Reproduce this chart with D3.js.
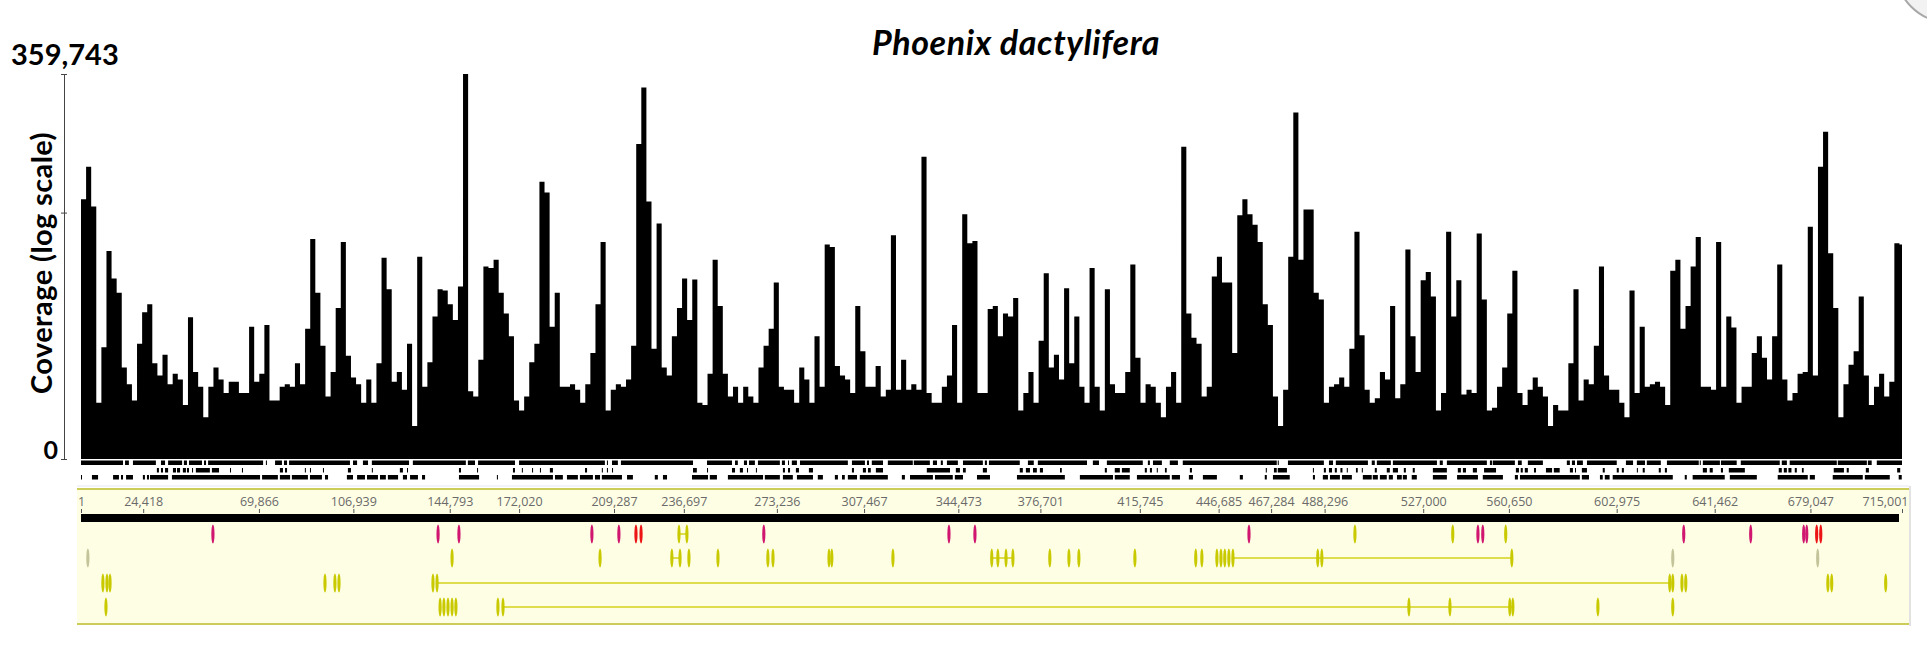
<!DOCTYPE html>
<html>
<head>
<meta charset="utf-8">
<script src="https://cdn.jsdelivr.net/npm/d3@7"></script>
<style>
  body { margin: 0; background: #fff; }
  svg { display: block; }
</style>
</head>
<body>
<svg id="chart" width="1927" height="664"></svg>
<script>
// ---- data ----
const genomeLength = 715001;
const binSize = 2000;
const yMax = 359743;
const yTicks = [0, 3597, 359743];

// read coverage per 2 kb bin (log scale in the picture)
const coverage = [
  5600, 16500, 4400, 5.5, 40, 1000, 400, 250, 20, 11,
  6, 45, 130, 170, 23, 15, 31, 11, 16, 13,
  5, 110, 17, 10, 3, 10, 20, 13, 8, 12,
  12, 8, 8, 80, 12, 16, 85, 6, 6, 10,
  11, 10, 23, 11, 75, 1500, 250, 42, 7, 17,
  150, 1350, 30, 14, 11, 5.5, 13, 5.5, 23, 800,
  280, 12, 17, 9, 45, 2, 830, 10, 24, 113,
  280, 270, 170, 100, 307, 359743, 8.5, 7, 26, 600,
  570, 750, 250, 125, 58, 6, 4, 7, 24, 45,
  10000, 7000, 80, 250, 10, 10, 11, 9, 5.5, 11,
  33, 170, 1350, 4, 9, 11, 10, 13, 42, 35000,
  230000, 5200, 38, 2500, 20, 15, 58, 150, 400, 100,
  390, 5.5, 5, 16, 750, 160, 16, 7, 10, 5.5,
  10, 7, 5.5, 20, 42, 75, 350, 10, 9, 9,
  5.5, 20, 13, 5.5, 58, 10, 1250, 1150, 21, 15,
  13, 8, 160, 35, 10, 10, 21, 7, 9, 1700,
  9, 26, 9, 11, 9, 23000, 8, 5.5, 5.5, 10,
  15, 85, 5.5, 3400, 1300, 1400, 8, 8, 145, 160,
  58, 125, 113, 210, 4, 8, 17, 5.5, 50, 480,
  20, 31, 13, 290, 23, 113, 10, 5.5, 570, 10,
  4, 280, 11, 8, 8, 17, 640, 28, 5.5, 11,
  10, 5.5, 3, 10, 17, 5.5, 32000, 125, 55, 45,
  7, 10, 430, 830, 350, 350, 33, 3300, 5600, 3400,
  2400, 1350, 170, 85, 7, 2, 9, 830, 100000, 750,
  4000, 4000, 250, 200, 5.5, 10, 11, 14, 10, 38,
  1900, 60, 9, 5.5, 6.5, 17, 13, 160, 6.5, 11,
  1050, 58, 17, 380, 500, 220, 4, 8, 1900, 113,
  380, 7.5, 9, 8, 1800, 200, 4, 4.5, 10, 20,
  125, 520, 8, 5, 9, 14, 10, 7, 2, 5,
  4, 4, 23, 280, 6, 13, 11, 42, 600, 15,
  9, 9, 5.5, 3, 270, 8, 80, 10, 11, 12,
  10, 5, 520, 750, 75, 160, 600, 1600, 10, 10,
  9, 1350, 10, 113, 78, 5.5, 10, 10, 33, 58,
  28, 13, 58, 640, 13, 6, 8, 16, 17, 2250,
  15, 16500, 53000, 930, 150, 3, 11, 22, 35, 220,
  15, 5, 10, 16, 7, 12, 1300, 1250
];

const rulerTicks = [1, 24418, 69866, 106939, 144793, 172020, 209287, 236697, 273236,
  307467, 344473, 376701, 415745, 446685, 467284, 488296, 527000, 560650,
  602975, 641462, 679047, 715001];

// three rows of black blocks under the coverage (kb)
const blockRow1Kb = [[0,16.5],[17.3,18.8],[20.4,29.4],[31.4,33],[34.2,39.7],[40.4,41.6],[42.4,47.5],
  [48.3,49.1],[49.9,71.5],[72.6,73],[76.2,78.9],[79.7,80.9],[81.7,105.6],[106.8,108.4],[110.7,112.7],
  [114.2,128.8],[130.3,151.1],[151.9,154.7],[155.9,170.4],[172,205.7],[206.5,206.9],[208.5,210.8],
  [212,240.3],[245.8,255.6],[256.8,257.9],[260.3,261.5],[262.3,264.6],[265.8,274.4],[275.2,276.4],
  [277.6,278],[279.1,281.1],[282.3,301.1],[302.7,307.8],[308.6,309.4],[310.5,314.9],[316.8,326.6],
  [327,333.3],[334.5,336.1],[337.6,338.4],[340,344.3],[346.3,354.1],[354.9,355.7],[356.5,368.6],
  [371.8,374.1],[375.7,395],[397.3,399.7],[402.8,416.9],[418.9,419.7],[420.9,424.4],[427.5,430.7],
  [432.6,469.5],[469.9,470.3],[473.9,488],[490,491.6],[492.7,505.3],[506.8,508],[508.8,514.3],
  [515.1,532.4],[533.5,534.7],[536.3,552],[553.2,554],[554.3,563],[564.2,565.7],[568.1,574],
  [583.4,584.6],[585.4,586.6],[587.4,589.7],[591.3,603],[606.6,609.4],[610.9,614.1],[614.8,620.3],
  [622.7,635.2],[635.6,636],[636.8,643.5],[643.9,650.1],[651.7,667],[667.8,669.8],[670.9,689.4],
  [689.8,701.2],[701.6,703.1],[705.1,715]];

const blockRow2Kb = [[29.8,30.6],[31.4,32.2],[33,34.2],[36.1,37.3],[37.7,38.9],[40,41.2],[41.6,42.4],
  [43.6,44],[45.1,50.6],[51.4,54.2],[58.5,58.9],[63.2,63.6],[78.1,79.3],[80.1,80.9],[87.9,88.3],
  [89.9,90.3],[95,95.4],[104.8,106],[114.2,114.6],[125.2,126.4],[128,128.4],[148.4,149.2],
  [155.5,155.9],[169.6,170.4],[173.1,173.5],[177.1,177.5],[180.2,180.6],[184.1,185.3],[197.9,198.7],
  [204.5,204.9],[206.5,206.9],[208.5,208.9],[240.3,241.8],[245.8,246.2],[255.6,256.8],[258.7,259.9],
  [261.5,261.9],[265,265.4],[275.6,276.4],[277.6,278.4],[280.7,281.9],[285.8,287.4],[302.7,303.5],
  [307,308.2],[309,310.1],[312.1,314.9],[332.1,341.2],[343.5,345.1],[346.3,347.4],[354.1,355.7],
  [368.6,369.8],[371,372.6],[373.8,375.3],[376.5,377.7],[384.4,385.1],[402,402.8],[405.9,407.9],
  [408.7,411.8],[417.7,418.5],[419.7,420.5],[422.4,422.8],[425.6,426.3],[435.4,436.2],[465.2,465.6],
  [468.4,469.5],[469.9,473.5],[483.7,484.1],[488,488.8],[490,491.2],[492.3,493.1],[494.5,495.3],
  [497,497.4],[500.6,501.3],[502.9,503.3],[508,508.8],[512.7,513.9],[515.1,517.1],[519.4,520.2],
  [522.9,523.7],[530.8,536.3],[540.6,541.8],[542.6,543.8],[546.5,548.1],[550.9,555.6],[563.4,564.6],
  [565.3,566.1],[566.9,568.1],[570.5,571.3],[575.2,577.6],[578.3,580.6],[584.6,585.8],[586.6,587],
  [589.3,591.3],[597.5,598.3],[603,603.8],[605,605.8],[610.9,611.3],[613.2,614],[619.5,620.3],
  [621.9,622.7],[636.8,638.4],[639.5,640.7],[643.9,644.7],[647,653.3],[666.6,667.8],[668.6,669.8],
  [670.4,671.6],[672.9,673.7],[675.7,676.4],[688.2,692.2],[693.3,694.1],[700.8,702],[713.1,714.3]];

const blockRow3Kb = [[0,0.4],[4.3,6.7],[12.6,14.9],[15.7,16.5],[17.7,20.4],[24.3,25.1],[25.9,26.7],
  [27.1,34.2],[35.7,70.3],[71.1,77.3],[78.1,82.1],[82.8,89.1],[89.9,94.6],[95.8,97],[104.4,106.8],
  [108.4,111.5],[112.3,116.6],[117.4,119.7],[120.5,124.5],[126.4,128],[129.2,132.3],[133.9,135.1],
  [148.4,156.3],[163.3,163.7],[169.2,185.3],[186.1,189.2],[190.8,195.1],[195.9,201],[201.8,203.8],
  [204.5,212.4],[214.4,216.7],[225.3,226.5],[228.5,230.1],[239.9,246.2],[246.9,249.7],[254,267.8],
  [268.5,274.4],[275.6,279.5],[281.1,287.4],[289.3,291.3],[296,297.2],[298.8,299.9],[301.1,304.7],
  [305.8,316.8],[322.3,323.5],[325.5,334.5],[335.3,342.3],[343.1,346.3],[351.8,356.9],[367.5,386.3],
  [392.2,405.2],[405.9,411.8],[414.6,427.5],[428.3,431.5],[435,436.6],[440.5,446],[455,456.2],
  [464.8,465.6],[468,474.6],[483.7,484.5],[487.6,489.6],[490.4,494.3],[495.1,499],[503.3,506.8],
  [507.2,509.2],[510,512.7],[513.5,515.1],[516.7,518.6],[519,520.6],[522.5,524.5],[530.8,536.3],
  [540.3,548.5],[550.4,558.3],[563,564.2],[565,588.5],[589.3,592.1],[596.4,597.5],[598.3,600.2],
  [601.4,625],[629.7,630.5],[632.8,645.4],[647.4,658],[666.2,678],[678.8,680.8],[687.8,699.6],
  [700.4,710.2],[713.7,714.9]];

// annotation marks (kb) for the four feature rows in the ruler panel
const rowAPinkKb = [51.8, 140.2, 148.4, 200.6, 211.2, 268.1, 340.8, 351.0, 458.6, 548.5, 550.4, 629.3, 655.6, 676.4, 677.6];
const rowARedKb = [217.9, 219.9, 681.5, 683.1];
const rowAYellowKb = [234.8, 237.9, 500.2, 538.6, 559.4];
const rowBYellowKb = [145.7, 203.8, 232.0, 235.2, 238.7, 250.1, 269.7, 271.7, 293.7, 294.8, 318.8,
  357.6, 360.0, 363.2, 365.9, 380.4, 387.9, 391.8, 413.8, 437.7, 440.1,
  446.0, 447.6, 449.1, 450.7, 452.3, 485.6, 487.2, 561.8];
const rowBPaleKb = [2.7, 625.0, 681.9];
const rowCYellowKb = [8.6, 10.2, 11.4, 95.8, 99.7, 101.3, 138.2, 139.8, 623.8, 625.0, 628.6, 630.1, 685.9, 687.4, 708.6];
const rowDYellowKb = [9.8, 141.0, 142.5, 144.1, 145.7, 147.2, 163.7, 165.7, 521.4, 537.5, 561.0, 562.2, 595.6, 625.0];
// connecting lines: [row, startKb, endKb]
const linksKb = [["A", 234.8, 237.9], ["B", 232.0, 235.2], ["B", 357.6, 365.9], ["B", 452.3, 561.8],
  ["C", 139.8, 623.8], ["D", 165.7, 562.2]];

// ---- drawing ----
const svg = d3.select("#chart");
const base = 459;
const x = d3.scaleLinear().domain([1, genomeLength]).range([81, 1902]);
const xKb = d => x(d * 1000);
const y = d3.scaleSymlog().domain([0, yMax]).range([base, 74]);

// title
svg.append("text")
  .attr("x", 1016).attr("y", 55)
  .attr("text-anchor", "middle")
  .attr("font-family", "Lato, 'Open Sans', sans-serif")
  .attr("font-size", 34).attr("font-weight", "bold").attr("font-style", "italic")
  .attr("letter-spacing", 0.6)
  .text("Phoenix dactylifera");

// corner button remnant
svg.append("circle")
  .attr("cx", 1948).attr("cy", -30).attr("r", 52)
  .attr("fill", "#f2f2f2").attr("stroke", "#a8a8a8").attr("stroke-width", 2);

// coverage as a step area
const steps = coverage.map((v, i) => ({ pos: 1 + i * binSize, v }));
steps.push({ pos: genomeLength, v: coverage[coverage.length - 1] });

const area = d3.area()
  .x(d => x(d.pos))
  .y0(base)
  .y1(d => y(d.v))
  .curve(d3.curveStepAfter);

svg.append("path")
  .datum(steps)
  .attr("d", area)
  .attr("fill", "#000");

// y axis
const yAxis = d3.axisLeft(y).tickValues(yTicks).tickSize(3).tickSizeOuter(0).tickFormat("");
svg.append("g")
  .attr("transform", "translate(64,0)")
  .call(yAxis)
  .call(g => g.select(".domain").attr("stroke", "#444"))
  .call(g => g.selectAll(".tick line").attr("x1", 3).attr("x2", -3).attr("stroke", "#444"));

svg.append("text")
  .attr("x", 11).attr("y", y(yMax) - 9)
  .attr("font-family", "Lato, sans-serif").attr("font-weight", "bold").attr("font-size", 29)
  .text(d3.format(",")(yMax));

svg.append("text")
  .attr("x", 58).attr("y", y(0))
  .attr("text-anchor", "end")
  .attr("font-family", "Lato, sans-serif").attr("font-weight", "bold").attr("font-size", 25)
  .text("0");

svg.append("text")
  .attr("transform", `translate(52, 263) rotate(-90)`)
  .attr("text-anchor", "middle")
  .attr("font-family", "Lato, sans-serif").attr("font-weight", "bold").attr("font-size", 29)
  .attr("letter-spacing", 0.4)
  .text("Coverage (log scale)");

// block rows
const blockRows = [
  { data: blockRow1Kb, y: 460.5 },
  { data: blockRow2Kb, y: 468 },
  { data: blockRow3Kb, y: 475 }
];
blockRows.forEach(row => {
  svg.append("g").selectAll("rect")
    .data(row.data)
    .join("rect")
    .attr("x", d => xKb(d[0]))
    .attr("width", d => Math.max(1, xKb(d[1]) - xKb(d[0])))
    .attr("y", row.y)
    .attr("height", 4.5)
    .attr("fill", "#000");
});

// ruler panel
svg.append("line")
  .attr("x1", 77).attr("x2", 1909).attr("y1", 486).attr("y2", 486)
  .attr("stroke", "#e3e7f3").attr("stroke-width", 1);

svg.append("rect")
  .attr("x", 77).attr("y", 489).attr("width", 1832).attr("height", 135)
  .attr("fill", "#fefee4");

svg.append("line")
  .attr("x1", 1910).attr("x2", 1910).attr("y1", 486).attr("y2", 626)
  .attr("stroke", "#e2e2e2").attr("stroke-width", 2);

[489, 624].forEach(yy => {
  svg.append("line")
    .attr("x1", 77).attr("x2", 1909).attr("y1", yy).attr("y2", yy)
    .attr("stroke", "#cccc5a").attr("stroke-width", 2);
});

const rulerAxis = d3.axisTop(x).tickValues(rulerTicks).tickSize(4).tickPadding(3)
  .tickFormat(d => d3.format(",")(d));
svg.append("g")
  .attr("transform", "translate(0,513)")
  .call(rulerAxis)
  .call(g => g.select(".domain").remove())
  .call(g => g.selectAll(".tick line").attr("stroke", "#555"))
  .call(g => g.selectAll(".tick text")
    .attr("fill", "#6a6a6a")
    .attr("font-family", "'Open Sans', sans-serif")
    .attr("font-size", 12.5)
    .filter(d => d === genomeLength)
    .attr("text-anchor", "end")
    .attr("dx", 6));

svg.append("rect")
  .attr("x", x(1)).attr("y", 514)
  .attr("width", x(genomeLength) - x(1) - 3).attr("height", 8)
  .attr("fill", "#000");

// feature rows
const rowY = { A: 534, B: 558, C: 583, D: 607 };

svg.append("g").selectAll("line")
  .data(linksKb)
  .join("line")
  .attr("x1", d => xKb(d[1])).attr("x2", d => xKb(d[2]))
  .attr("y1", d => rowY[d[0]]).attr("y2", d => rowY[d[0]])
  .attr("stroke", "#d2d21c").attr("stroke-width", 1.5);

const markSets = [
  { data: rowAYellowKb, row: "A", color: "#c9c900" },
  { data: rowAPinkKb, row: "A", color: "#d0166f" },
  { data: rowARedKb, row: "A", color: "#ec1414" },
  { data: rowBYellowKb, row: "B", color: "#c9c900" },
  { data: rowBPaleKb, row: "B", color: "#c4c49a" },
  { data: rowCYellowKb, row: "C", color: "#c9c900" },
  { data: rowDYellowKb, row: "D", color: "#c9c900" }
];
markSets.forEach(set => {
  svg.append("g").selectAll("ellipse")
    .data(set.data)
    .join("ellipse")
    .attr("cx", d => xKb(d))
    .attr("cy", rowY[set.row])
    .attr("rx", 1.6)
    .attr("ry", 9.5)
    .attr("fill", set.color);
});
</script>
</body>
</html>
